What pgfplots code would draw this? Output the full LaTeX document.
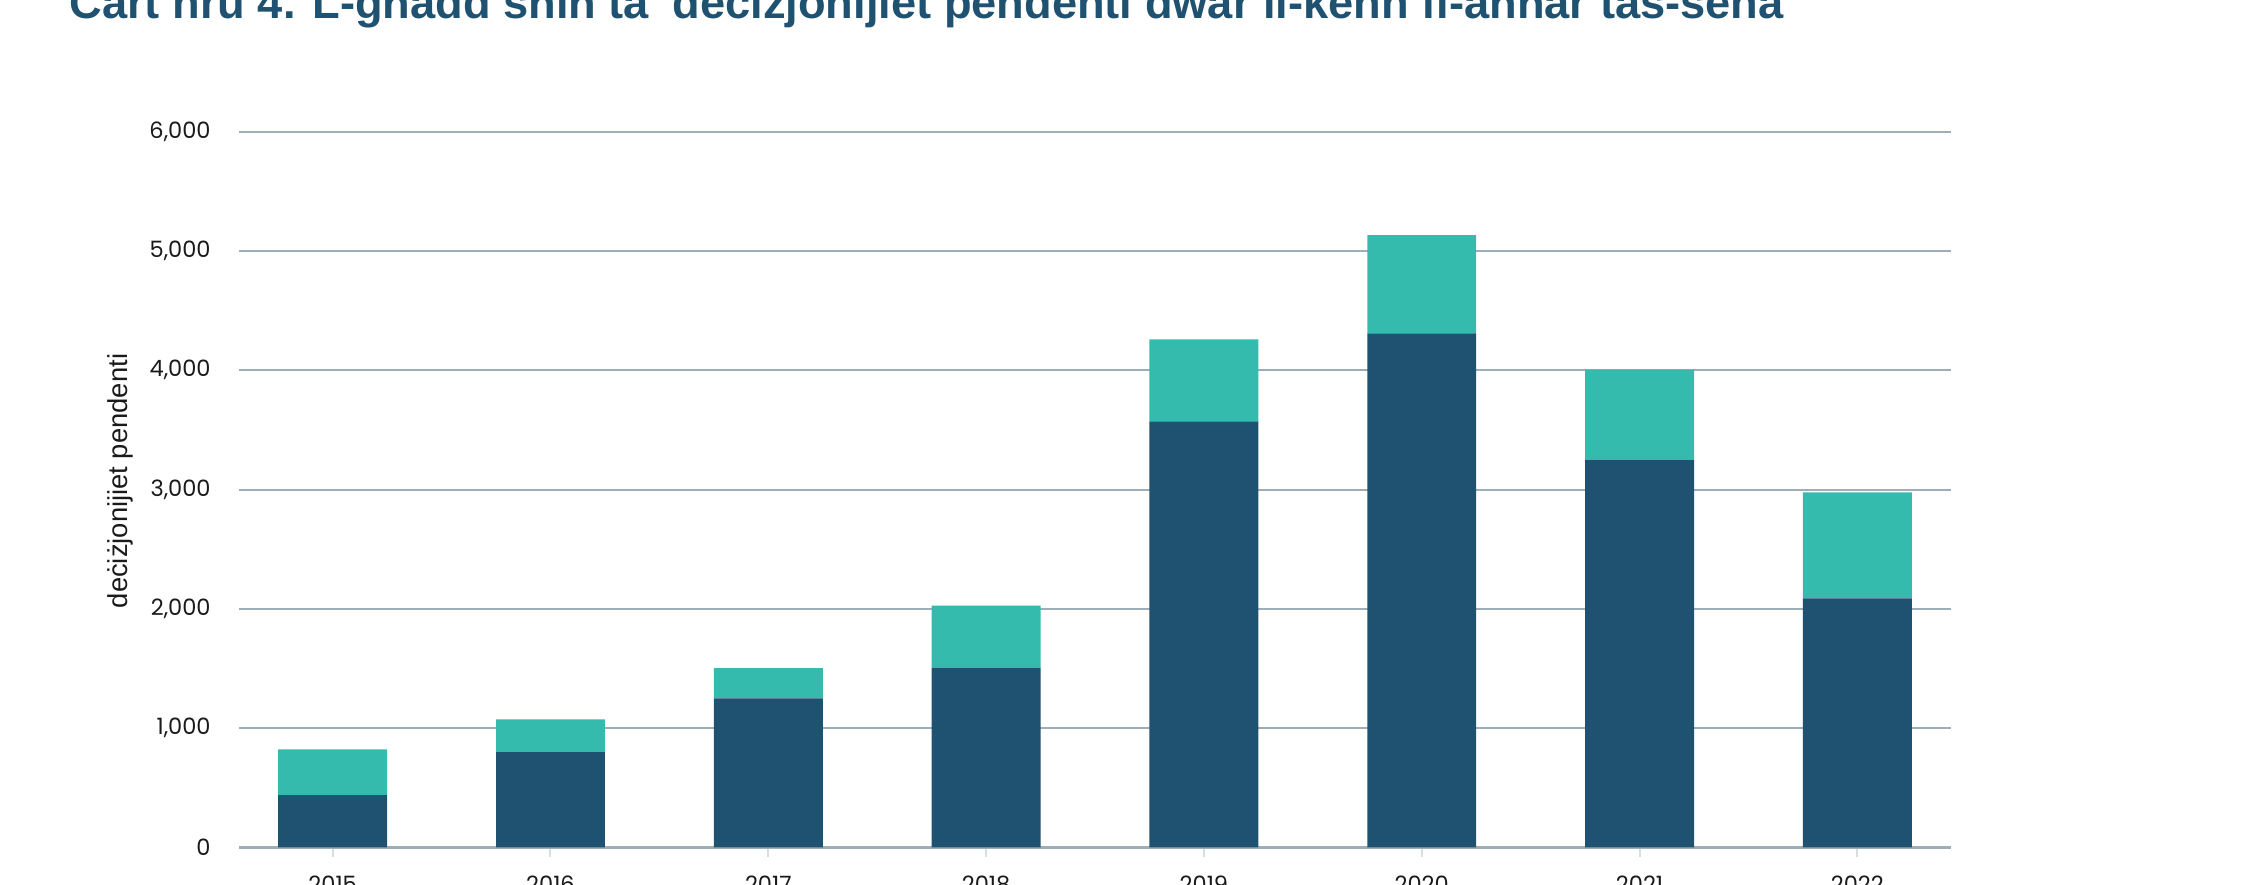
\documentclass[border=0pt]{standalone}
\usepackage{fontspec}
\setmainfont{Poppins}
\newfontfamily\libsans{Liberation Sans}
\usepackage{pgfplots}
\pgfplotsset{compat=1.18}
\definecolor{darkbar}{HTML}{1F5270}
\definecolor{tealbar}{HTML}{34BBAE}
\definecolor{gridc}{HTML}{9DAEB8}
\definecolor{tickc}{HTML}{D9DDE0}
\definecolor{txt}{HTML}{1A1A1A}
\begin{document}
\begin{tikzpicture}
\path[use as bounding box, clip] (0pt,0pt) rectangle (1123pt,-442pt);
\node[anchor=base west, inner sep=0pt, text=darkbar] at (34.5pt,-9pt) {\resizebox{857pt}{!}{\libsans\bfseries Ċart nru 4. L-għadd sħiħ ta' deċiżjonijiet pendenti dwar il-kenn fl-aħħar tas-sena}};
\node[rotate=90, inner sep=0pt, text=txt, font=\libsans\fontsize{13.7}{16}\selectfont] at (60pt,-240.5pt) {deċiżjonijiet pendenti};
\begin{axis}[
  at={(119.5pt,-423.65pt)}, anchor=south west,
  width=856pt, height=357.75pt, scale only axis,
  xmin=-0.43, xmax=7.43, ymin=0, ymax=6000,
  ybar stacked, bar width=0.5,
  xtick={0,...,7}, xticklabels={2015,2016,2017,2018,2019,2020,2021,2022},
  ytick={0,1000,...,6000},
  ymajorgrids, grid style={gridc, line width=1pt},
  axis x line*=bottom, axis y line*=left,
  y axis line style={draw=none},
  x axis line style={gridc, line width=1.4pt},
  xtick align=outside, ytick align=inside,
  x tick style={tickc, line width=1pt}, major tick length=5pt,
  y tick style={draw=none},
  tick label style={font=\fontsize{11.25}{13}\selectfont, text=txt},
  xticklabel style={inner sep=0pt, anchor=north, yshift=-9pt},
  yticklabel style={inner sep=0pt, anchor=east, xshift=-14pt},
  /pgf/number format/.cd, 1000 sep={,}, assume math mode=true
]
\addplot[fill=darkbar, draw=none] coordinates {(0,437) (1,798) (2,1248) (3,1507) (4,3572) (5,4309) (6,3251) (7,2087)};
\addplot[fill=tealbar, draw=none] coordinates {(0,385) (1,275) (2,255) (3,520) (4,687) (5,825) (6,754) (7,889)};
\end{axis}
\end{tikzpicture}
\end{document}
